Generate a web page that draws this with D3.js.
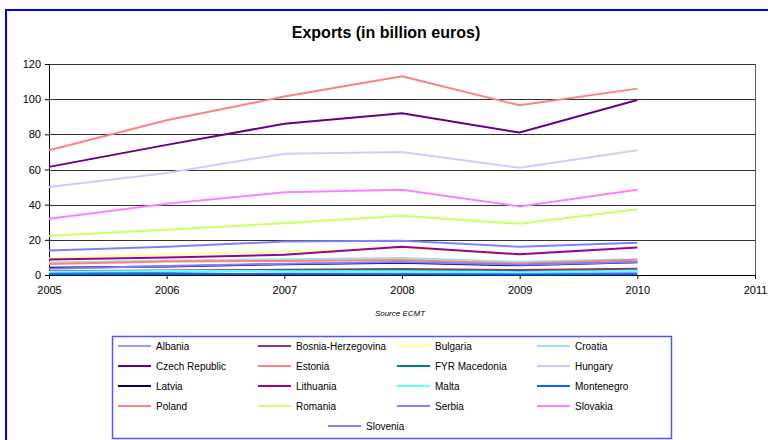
<!DOCTYPE html>
<html>
<head>
<meta charset="utf-8">
<script src="https://cdn.jsdelivr.net/npm/d3@7"></script>
<style>
    body { margin: 0; background: #fff; }
    svg { font-family: 'Liberation Sans', Arial, sans-serif; }
    .axis text { font-size: 11px; fill: #000; }
    .axis .domain { stroke: #000; }
    .axis line { stroke: #000; }
</style>
</head>
<body>
<div id="chart"></div>
<script>
// data
const years = [2005, 2006, 2007, 2008, 2009, 2010];
const yTicks = [0, 20, 40, 60, 80, 100, 120];
const xTicks = [2005, 2006, 2007, 2008, 2009, 2010, 2011];

const countries = ['Albania', 'Bosnia-Herzegovina', 'Bulgaria', 'Croatia',
    'Czech Republic', 'Estonia', 'FYR Macedonia', 'Hungary',
    'Latvia', 'Lithuania', 'Malta', 'Montenegro',
    'Poland', 'Romania', 'Serbia', 'Slovakia', 'Slovenia'];

const albania = [0.5, 0.6, 0.8, 0.9, 0.8, 1.2];
const bosnia = [2.1, 2.6, 3.0, 3.4, 2.8, 3.6];
const bulgaria = [9.5, 12.0, 13.5, 15.2, 11.7, 15.6];
const croatia = [7.1, 8.3, 9.0, 9.6, 7.5, 8.9];
const czech = [61.5, 74, 86, 92, 81, 99.5];
const estonia = [6.2, 7.7, 8.0, 8.5, 6.5, 8.7];
const macedonia = [1.6, 1.9, 2.5, 2.7, 1.9, 2.5];
const hungary = [50, 58, 69, 70, 61, 71];
const latvia = [4.1, 4.9, 6.1, 6.9, 5.5, 7.2];
const lithuania = [8.8, 10.0, 11.5, 16.0, 11.8, 15.7];
const malta = [1.9, 2.3, 2.2, 2.2, 1.6, 2.4];
const montenegro = [0.4, 0.5, 0.5, 0.4, 0.3, 0.4];
const poland = [71, 88, 101.5, 113, 96.5, 106];
const romania = [22.3, 25.8, 29.5, 33.7, 29.1, 37.4];
const serbia = [3.6, 5.1, 6.4, 7.4, 5.9, 7.4];
const slovakia = [32, 40.5, 47, 48.5, 39, 48.5];
const slovenia = [14, 16, 19, 19.5, 16, 18.3];

const values = [albania, bosnia, bulgaria, croatia, czech, estonia, macedonia, hungary,
    latvia, lithuania, malta, montenegro, poland, romania, serbia, slovakia, slovenia];

const colors = ['#9999FF', '#993366', '#FFFF99', '#A0E0E0', '#660088', '#FF8080', '#008080', '#CCCCFF',
    '#000066', '#990099', '#66FFFF', '#0066FF', '#FF8080', '#CCFF66', '#8080FF', '#FF80FF', '#8080FF'];

// layout
const width = 768, height = 440;
const margin = {t: 64, r: 13, b: 165, l: 49};
const w = width - margin.l - margin.r;
const h = height - margin.t - margin.b;

const svg = d3.select('#chart')
    .append('svg')
    .attr('width', width)
    .attr('height', height);

// outer blue frame
svg.append('path')
    .attr('d', `M6,${height + 5}V10H${width + 5}`)
    .attr('fill', 'none')
    .attr('stroke', '#0000FF')
    .attr('stroke-width', 2);

// title
svg.append('text')
    .attr('x', 386)
    .attr('y', 38)
    .attr('text-anchor', 'middle')
    .style('font-size', '16px')
    .style('font-weight', 'bold')
    .text('Exports (in billion euros)');

const plot = svg.append('g')
    .attr('transform', `translate(${margin.l},${margin.t})`);

// scales
const scaleX = d3.scaleLinear()
    .domain([2005, 2011])
    .range([0, w]);
const scaleY = d3.scaleLinear()
    .domain([0, 120])
    .range([h, 0]);

// gridlines
plot.selectAll('.grid')
    .data(yTicks.slice(1))
    .join('line')
    .attr('class', 'grid')
    .attr('x1', 0)
    .attr('x2', w)
    .attr('y1', d => Math.round(scaleY(d)) + 0.5)
    .attr('y2', d => Math.round(scaleY(d)) + 0.5)
    .attr('stroke', '#333');

// right border of plot
plot.append('line')
    .attr('x1', w + 0.5).attr('x2', w + 0.5)
    .attr('y1', 0).attr('y2', h)
    .attr('stroke', '#555');

// axes
const axisY = d3.axisLeft(scaleY)
    .tickValues(yTicks)
    .tickSize(4)
    .tickSizeOuter(0);
const axisX = d3.axisBottom(scaleX)
    .tickValues(xTicks)
    .tickFormat(d3.format('d'))
    .tickSize(4)
    .tickSizeOuter(0);

plot.append('g')
    .attr('class', 'axis axis-y')
    .call(axisY)
    .selectAll('text')
    .attr('dx', -1);

plot.append('g')
    .attr('class', 'axis axis-x')
    .attr('transform', `translate(0,${h})`)
    .call(axisX)
    .selectAll('text')
    .attr('dy', '1.1em');

// series lines
const line = d3.line()
    .x((d, i) => scaleX(years[i]))
    .y(d => scaleY(d));

plot.selectAll('.series')
    .data(values)
    .join('path')
    .attr('class', 'series')
    .attr('d', line)
    .attr('fill', 'none')
    .attr('stroke', (d, i) => colors[i])
    .attr('stroke-width', 2);

// source note
svg.append('text')
    .attr('x', 400)
    .attr('y', 316)
    .attr('text-anchor', 'middle')
    .style('font-size', '8px')
    .style('font-style', 'italic')
    .text('Source ECMT');

// legend
const legend = svg.append('g');
legend.append('rect')
    .attr('x', 112.5)
    .attr('y', 336.5)
    .attr('width', 559)
    .attr('height', 102)
    .attr('fill', '#fff')
    .attr('stroke', '#5555FF')
    .attr('stroke-width', 1.5);

const colX = [118, 258, 397, 537];
const items = legend.selectAll('.item')
    .data(countries)
    .join('g')
    .attr('class', 'item')
    .attr('transform', (d, i) => i < 16
        ? `translate(${colX[i % 4]},${346 + Math.floor(i / 4) * 20})`
        : `translate(328,426)`);

items.append('line')
    .attr('x1', 0).attr('x2', 33)
    .attr('y1', 0).attr('y2', 0)
    .attr('stroke', (d, i) => colors[i])
    .attr('stroke-width', 2);

items.append('text')
    .attr('x', 38)
    .attr('y', 4)
    .style('font-size', '10px')
    .text(d => d);
</script>
</body>
</html>
